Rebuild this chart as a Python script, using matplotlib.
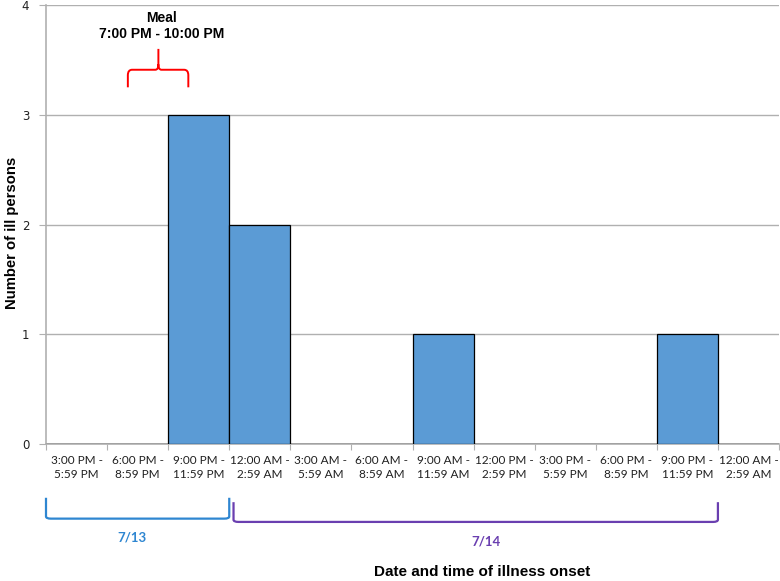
import matplotlib.pyplot as plt
from matplotlib.path import Path
from matplotlib.patches import PathPatch

#-----DATA-----
time_bins = [
    "3:00 PM -\n5:59 PM", "6:00 PM -\n8:59 PM", "9:00 PM -\n11:59 PM",
    "12:00 AM -\n2:59 AM", "3:00 AM -\n5:59 AM", "6:00 AM -\n8:59 AM",
    "9:00 AM -\n11:59 AM", "12:00 PM -\n2:59 PM", "3:00 PM -\n5:59 PM",
    "6:00 PM -\n8:59 PM", "9:00 PM -\n11:59 PM", "12:00 AM -\n2:59 AM",
]
ill_counts = [0, 0, 3, 2, 0, 0, 1, 0, 0, 0, 1, 0]
day_labels = ["7/13", "7/14"]
day_spans = [(0, 3), (3.07, 11)]      # bin index range covered by each day
day_colors = ["#2E86D1", "#6A3FB0"]
meal_span = (1.34, 2.33)              # 7 PM - 10 PM in bin units
#--------------

bar_color = "#5B9BD5"
grid_color = "#B0B0B0"


def brace(ax, x0, x1, y_top, y_bot, color, r=0.08):
    # square-ish bracket opening upward with rounded corners
    verts = [(x0, y_top), (x0, y_bot + 0.02), (x0, y_bot), (x0 + r, y_bot),
             (x1 - r, y_bot), (x1, y_bot), (x1, y_bot + 0.02), (x1, y_top)]
    codes = [Path.MOVETO, Path.LINETO, Path.CURVE3, Path.CURVE3,
             Path.LINETO, Path.CURVE3, Path.CURVE3, Path.LINETO]
    ax.add_patch(PathPatch(Path(verts, codes), fill=False, edgecolor=color,
                           lw=1.6, clip_on=False))


def curly_brace(ax, x0, x1, xm, y_end, y_mid, y_tip, color):
    h = 0.05
    verts = [(x0, y_end), (x0, y_mid - h), (x0, y_mid), (x0 + 0.07, y_mid),
             (xm - 0.05, y_mid), (xm, y_mid), (xm, y_mid + h), (xm, y_tip),
             (xm, y_mid + h), (xm, y_mid), (xm + 0.05, y_mid),
             (x1 - 0.07, y_mid), (x1, y_mid), (x1, y_mid - h), (x1, y_end)]
    codes = [Path.MOVETO, Path.LINETO, Path.CURVE3, Path.CURVE3,
             Path.LINETO, Path.CURVE3, Path.CURVE3, Path.LINETO,
             Path.MOVETO, Path.CURVE3, Path.CURVE3,
             Path.LINETO, Path.CURVE3, Path.CURVE3, Path.LINETO]
    ax.add_patch(PathPatch(Path(verts, codes), fill=False, edgecolor=color,
                           lw=1.4, clip_on=False))


def main():
    fig = plt.figure(figsize=(7.8, 5.81), dpi=100)
    ax = fig.add_axes([46 / 780, 1 - 444 / 581, 733 / 780, 439 / 581])

    n = len(time_bins)
    centers = [i + 0.5 for i in range(n)]
    ax.bar(centers, ill_counts, width=1.0, color=bar_color,
           edgecolor="black", linewidth=0.9, zorder=3)

    ax.set_xlim(0, n)
    ax.set_ylim(0, 4)
    ax.set_yticks([0, 1, 2, 3, 4])
    ax.yaxis.grid(True, color=grid_color, linewidth=1.0, zorder=0)

    ax.set_xticks(range(n + 1))
    ax.set_xticklabels([])
    ax.set_xticks(centers, minor=True)
    ax.set_xticklabels(time_bins, minor=True, fontsize=8.5, family="Lato",
                       color="#202020", linespacing=1.35)
    ax.tick_params(axis="x", which="major", length=4, color=grid_color,
                   direction="out")
    ax.tick_params(axis="x", which="minor", length=0, pad=8)
    ax.tick_params(axis="y", length=5, color=grid_color, labelsize=8.5,
                   pad=7, labelcolor="#202020")

    for side in ("top", "right"):
        ax.spines[side].set_visible(False)
    for side in ("left", "bottom"):
        ax.spines[side].set_color(grid_color)
        ax.spines[side].set_linewidth(1.2)

    # day brackets under the axis
    brace(ax, day_spans[0][0], day_spans[0][1], -0.49, -0.68, day_colors[0])
    brace(ax, day_spans[1][0], day_spans[1][1], -0.53, -0.71, day_colors[1])
    ax.text(1.41, -0.855, day_labels[0], color=day_colors[0], fontsize=9.5,
            fontweight="bold", family="Lato", ha="center", va="center")
    ax.text(7.2, -0.89, day_labels[1], color=day_colors[1], fontsize=9.5,
            fontweight="bold", family="Lato", ha="center", va="center")

    # meal annotation
    curly_brace(ax, meal_span[0], meal_span[1], 1.84, 3.25, 3.41, 3.6, "red")
    ax.text(1.89, 3.81, "Meal\n7:00 PM - 10:00 PM", fontsize=10,
            fontweight="bold", family="Liberation Sans", ha="center",
            va="center", linespacing=1.15)

    fig.text(482 / 780, 1 - 572 / 581, "Date and time of illness onset",
             fontsize=11, fontweight="bold", family="Liberation Sans",
             ha="center", va="center")
    fig.text(12 / 780, 1 - 233 / 581, "Number of ill persons", rotation=90,
             fontsize=10.7, fontweight="bold", family="Liberation Sans",
             ha="center", va="center")

    fig.savefig("out.png", dpi=100)


if __name__ == "__main__":
    main()
